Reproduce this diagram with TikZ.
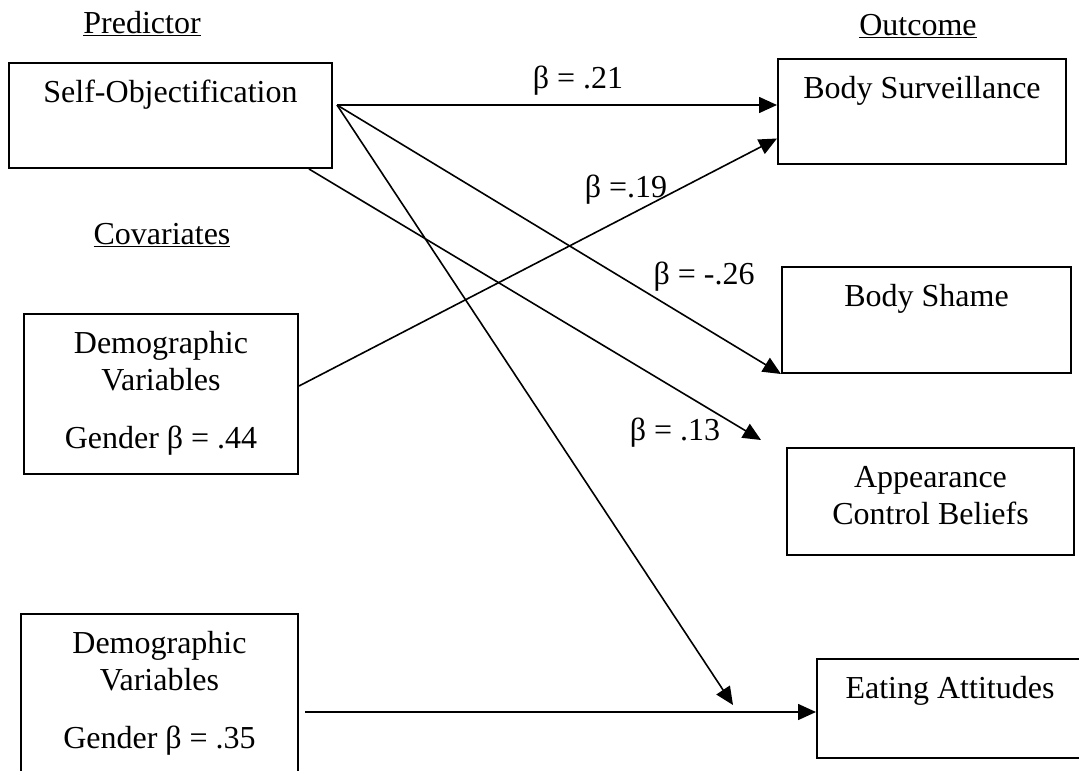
\documentclass[tikz,border=0pt]{standalone}
\usepackage{fontspec}
\setmainfont{Liberation Serif}
\usetikzlibrary{arrows.meta,positioning,calc}

\begin{document}
\begin{tikzpicture}[x=1pt, y=-1pt, >={Triangle[length=18pt,width=16pt]},
  font=\fontsize{32}{37}\selectfont,
  box/.style={draw, line width=2pt, anchor=north, align=center, inner xsep=0pt, inner ysep=15pt, text height=24pt},
  path/.style={->, line width=1.6pt},
  coef/.style={anchor=base, inner sep=0pt}]

\useasboundingbox (0,0) rectangle (1079,771);

% headings
\node[coef] (predictor) at (142,33) {\underline{Predictor}};
\node[coef] (outcome) at (918,35) {\underline{Outcome}};
\node[coef] (covariates) at (162,244) {\underline{Covariates}};

% predictor and covariate boxes
\node[box, minimum width=323pt, text depth=51pt] (selfobj) at (170.5,62) {Self-Objectification};
\node[box, minimum width=274pt, text height=119pt, text depth=11pt] (demo1) at (161,313) {Demographic\\Variables\\[21pt]Gender β = .44};
\node[box, minimum width=277pt, text height=119pt, text depth=13pt] (demo2) at (159.5,613) {Demographic\\Variables\\[21pt]Gender β = .35};

% outcome boxes
\node[box, minimum width=288pt, text depth=51pt] (bodysurv) at (922,58) {Body Surveillance};
\node[box, minimum width=289pt, text depth=52pt] (bodyshame) at (926.5,266) {Body Shame};
\node[box, minimum width=287pt, text height=61pt, text depth=16pt] (appear) at (930.5,447) {Appearance\\Control Beliefs};
\node[box, minimum width=266pt, text depth=45pt] (eating) at (950,658) {Eating Attitudes};

% paths
\coordinate (src) at (337,105);
\coordinate (appeartip) at ([xshift=-25pt,yshift=7pt]appear.north west);
\coordinate (eatingtip) at (733,705);
\coordinate (demo2out) at ([xshift=6pt,yshift=-17pt]demo2.east);

\draw[path] (src) -- (src -| bodysurv.west);
\draw[path] ([yshift=8pt]demo1.east) -- ([yshift=-27pt]bodysurv.west);
\draw[path] (src) -- (bodyshame.south west);
\draw[path] ([xshift=-24pt]selfobj.south east) -- (appeartip);
\draw[path] (src) -- (eatingtip);
\draw[path] (demo2out) -- (demo2out -| eating.west);

% coefficients
\node[coef] (b21) at (578,88) {β = .21};
\node[coef] (b19) at (626,197) {β =.19};
\node[coef] (b26) at (704,284) {β = -.26};
\node[coef] (b13) at (675,440) {β = .13};

\end{tikzpicture}
\end{document}
